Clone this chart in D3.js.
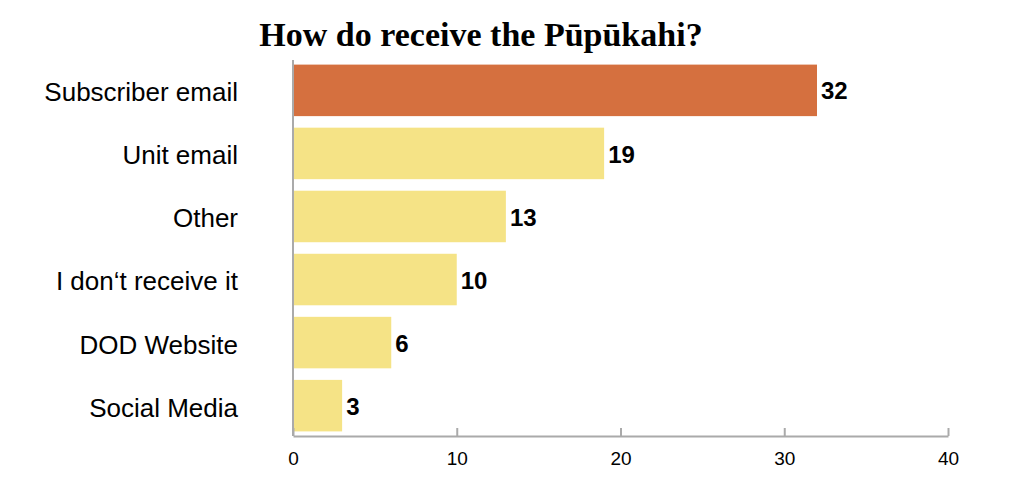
<!DOCTYPE html>
<html>
<head>
<meta charset="utf-8">
<script src="https://cdn.jsdelivr.net/npm/d3@7"></script>
<style>
  html, body { margin: 0; padding: 0; background: #fff; }
  svg { display: block; }
</style>
</head>
<body>
<script>
const title = "How do receive the Pūpūkahi?";
const categories = ["Subscriber email", "Unit email", "Other", "I don‘t receive it", "DOD Website", "Social Media"];
const values = [32, 19, 13, 10, 6, 3];
const tickValues = [0, 10, 20, 30, 40];
const highlightColor = "#D5703F";
const barColor = "#F5E386";

const W = 1024, H = 496;
const margin = { left: 293, right: 76, top: 60, bottom: 60 };

const svg = d3.select("body").append("svg").attr("width", W).attr("height", H);

const x = d3.scaleLinear().domain([0, 40]).range([margin.left, W - margin.right]);
const y = d3.scaleBand().domain(categories).range([margin.top, H - margin.bottom]).paddingInner(0.183).paddingOuter(0.073);

const data = categories.map((c, i) => ({ c, v: values[i] }));

svg.append("text")
  .attr("x", 481).attr("y", 46)
  .attr("text-anchor", "middle")
  .attr("font-family", "'Liberation Serif', 'Times New Roman', serif")
  .attr("font-weight", "bold")
  .attr("font-size", 34)
  .attr("fill", "#000")
  .text(title);

svg.selectAll("rect.bar").data(data).enter().append("rect")
  .attr("class", "bar")
  .attr("x", x(0))
  .attr("y", d => y(d.c))
  .attr("width", d => x(d.v) - x(0))
  .attr("height", y.bandwidth())
  .attr("fill", (d, i) => i === 0 ? highlightColor : barColor);

svg.selectAll("text.val").data(data).enter().append("text")
  .attr("class", "val")
  .attr("x", d => x(d.v) + 4)
  .attr("y", d => y(d.c) + y.bandwidth() / 2)
  .attr("dy", "0.38em")
  .attr("font-family", "'Liberation Sans', Arial, sans-serif")
  .attr("font-weight", "bold")
  .attr("font-size", 24)
  .attr("fill", "#000")
  .text(d => d.v);

svg.selectAll("text.cat").data(data).enter().append("text")
  .attr("class", "cat")
  .attr("x", 238)
  .attr("y", d => y(d.c) + y.bandwidth() / 2)
  .attr("dy", "0.42em")
  .attr("text-anchor", "end")
  .attr("font-family", "'Liberation Sans', Arial, sans-serif")
  .attr("font-size", 26)
  .attr("fill", "#000")
  .text(d => d.c);

// y axis line
svg.append("line")
  .attr("x1", x(0)).attr("x2", x(0))
  .attr("y1", margin.top).attr("y2", H - margin.bottom)
  .attr("stroke", "#aaa").attr("stroke-width", 2);

const xAxis = d3.axisBottom(x).tickValues(tickValues).tickSize(-8).tickPadding(16).tickSizeOuter(0);
const gx = svg.append("g").attr("transform", `translate(0,${H - margin.bottom})`).call(xAxis);
gx.select(".domain").attr("stroke", "#aaa").attr("stroke-width", 2);
gx.selectAll(".tick line").attr("stroke", "#aaa").attr("stroke-width", 2);
gx.selectAll(".tick text")
  .attr("font-family", "'Liberation Sans', Arial, sans-serif")
  .attr("font-size", 19)
  .attr("fill", "#000");
</script>
</body>
</html>
